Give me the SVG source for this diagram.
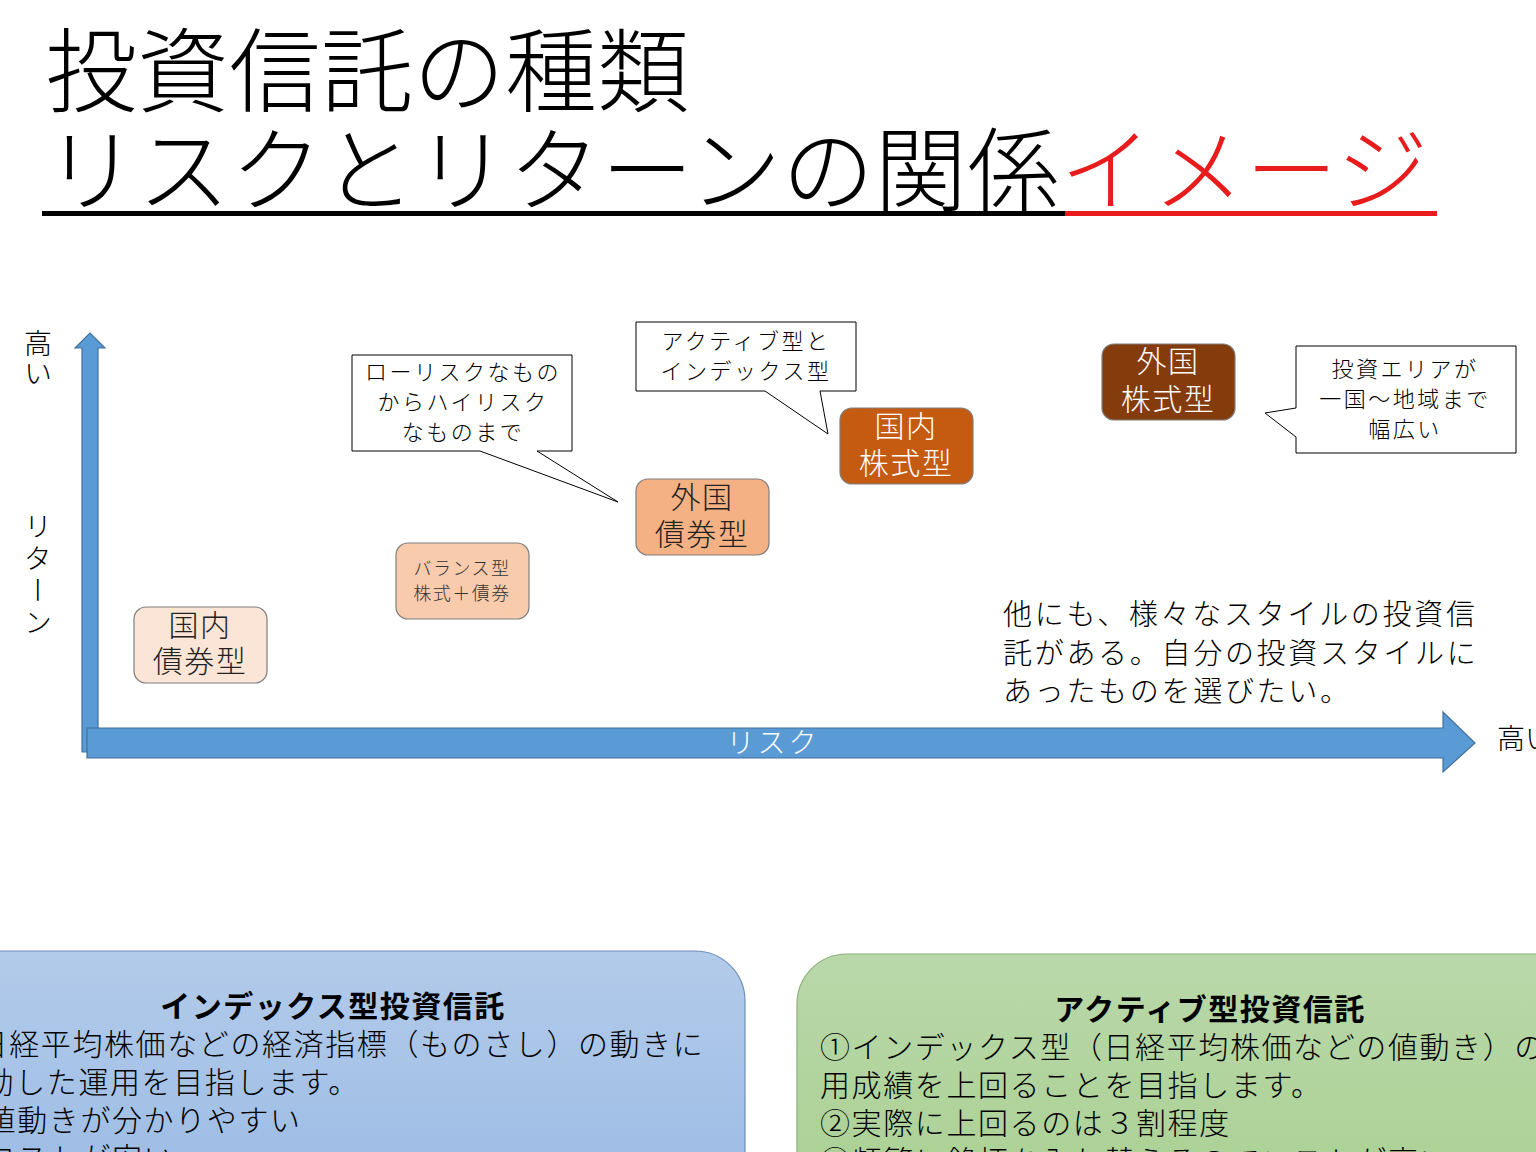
<svg xmlns="http://www.w3.org/2000/svg" width="1536" height="1152" viewBox="0 0 1536 1152">
<defs>
<linearGradient id="gBlue" x1="0" y1="0" x2="0" y2="1"><stop offset="0" stop-color="#B3CBEA"/><stop offset="1" stop-color="#96B8E3"/></linearGradient>
<linearGradient id="gGreen" x1="0" y1="0" x2="0" y2="1"><stop offset="0" stop-color="#B9D8AA"/><stop offset="1" stop-color="#A7CF8E"/></linearGradient>
<style>
text{font-family:"Noto Sans CJK JP","Noto Sans CJK SC",sans-serif;}
.title{font-size:92px;font-weight:300;fill:#000;}
.node{stroke:#7F7F7F;stroke-width:1.2;}
.nt{font-size:30px;letter-spacing:1.5px;text-anchor:middle;dominant-baseline:central;font-weight:300;}
.nts{font-size:18px;letter-spacing:1.5px;text-anchor:middle;dominant-baseline:central;font-weight:300;fill:#333;}
.call{fill:#fff;stroke:#000;stroke-width:1;}
.ct{font-size:22px;letter-spacing:2.5px;text-anchor:middle;dominant-baseline:central;font-weight:300;fill:#000;}
.axis{fill:#5B9BD5;stroke:#41719C;stroke-width:1.2;}
.lbl{font-size:28px;font-weight:300;fill:#000;}
.body{font-size:30px;letter-spacing:1.6px;dominant-baseline:central;font-weight:300;fill:#000;}
.note{font-size:29px;letter-spacing:2.7px;dominant-baseline:central;font-weight:300;fill:#000;}
.bt{font-size:30px;font-weight:700;text-anchor:middle;dominant-baseline:central;fill:#000;letter-spacing:1.5px;}
</style>
</defs>
<rect width="1536" height="1152" fill="#fff"/>

<g id="title">
<text class="title" x="45" y="64" dominant-baseline="central">投資信託の種類</text>
<text class="title" x="45" y="163" dominant-baseline="central" letter-spacing="0.7">リスクとリターンの関係<tspan fill="#E81C1C">イメージ</tspan></text>
<rect x="42" y="211" width="1023" height="5" fill="#000"/>
<rect x="1065" y="211" width="372" height="5" fill="#E81C1C"/>
</g>

<g id="connectors">
<path class="axis" d="M82,752 L82,348 L75,348 L90,333 L105,348 L98,348 L98,752 Z"/>
<path class="axis" d="M87,728 L1443,728 L1443,712 L1475,743 L1443,772 L1443,758 L87,758 Z"/>
<text x="773" y="741" font-size="28" fill="#fff" text-anchor="middle" dominant-baseline="central" letter-spacing="3" font-weight="300">リスク</text>
</g>

<g id="axis-labels">
<text class="lbl" x="38" y="329" writing-mode="vertical-rl" letter-spacing="2">高い</text>
<text class="lbl" x="38" y="512" writing-mode="vertical-rl" letter-spacing="4">リターン</text>
<text class="lbl" x="1497" y="737" dominant-baseline="central">高い</text>
</g>

<g id="node-domestic-bond">
<rect class="node" x="134" y="607" width="133" height="76" rx="12" fill="#FBE5D6"/>
<text class="nt" x="200" y="623" fill="#222">国内</text>
<text class="nt" x="200" y="659" fill="#222">債券型</text>
</g>

<g id="node-balance">
<rect class="node" x="396" y="543" width="133" height="76" rx="12" fill="#F8CBAD"/>
<text class="nts" x="462" y="567">バランス型</text>
<text class="nts" x="462" y="592">株式＋債券</text>
</g>

<g id="node-foreign-bond">
<rect class="node" x="636" y="479" width="133" height="76" rx="12" fill="#F4B183"/>
<text class="nt" x="702" y="495" fill="#222">外国</text>
<text class="nt" x="702" y="532" fill="#222">債券型</text>
</g>

<g id="node-domestic-stock">
<rect class="node" x="840" y="408" width="133" height="76" rx="12" fill="#C55A11"/>
<text class="nt" x="906" y="424" fill="#fff">国内</text>
<text class="nt" x="906" y="461" fill="#fff">株式型</text>
</g>

<g id="node-foreign-stock">
<rect class="node" x="1102" y="344" width="133" height="76" rx="12" fill="#843C0C"/>
<text class="nt" x="1168" y="359" fill="#fff">外国</text>
<text class="nt" x="1168" y="397" fill="#fff">株式型</text>
</g>

<g id="callout-range">
<path class="call" d="M352,355 L572,355 L572,451 L537,451 L618,502 L480,451 L352,451 Z"/>
<text class="ct" x="463" y="370">ローリスクなもの</text>
<text class="ct" x="463" y="400">からハイリスク</text>
<text class="ct" x="463" y="430">なものまで</text>
</g>

<g id="callout-active-index">
<path class="call" d="M636,322 L856,322 L856,391 L820,391 L828,434 L765,391 L636,391 Z"/>
<text class="ct" x="746" y="339">アクティブ型と</text>
<text class="ct" x="746" y="369">インデックス型</text>
</g>

<g id="callout-area">
<path class="call" d="M1296,346 L1516,346 L1516,453 L1296,453 L1296,437 L1265,413 L1296,408 Z"/>
<text class="ct" x="1405" y="367">投資エリアが</text>
<text class="ct" x="1405" y="397">一国〜地域まで</text>
<text class="ct" x="1405" y="427">幅広い</text>
</g>

<g id="note">
<text class="note" x="1003" y="612">他にも、様々なスタイルの投資信</text>
<text class="note" x="1003" y="651">託がある。自分の投資スタイルに</text>
<text class="note" x="1003" y="689">あったものを選びたい。</text>
</g>

<g id="box-index">
<rect x="-60" y="951" width="805" height="300" rx="50" fill="url(#gBlue)" stroke="#6F8EBD" stroke-width="1.2"/>
<text class="bt" x="333" y="1004">インデックス型投資信託</text>
<text class="body" x="-54" y="1042">①日経平均株価などの経済指標（ものさし）の動きに</text>
<text class="body" x="-48" y="1080">連動した運用を目指します。</text>
<text class="body" x="-46" y="1118">②値動きが分かりやすい</text>
<text class="body" x="-46" y="1156">③コストが安い</text>
</g>

<g id="box-active">
<rect x="797" y="954" width="800" height="300" rx="50" fill="url(#gGreen)" stroke="#8BAE78" stroke-width="1.2"/>
<text class="bt" x="1210" y="1007">アクティブ型投資信託</text>
<text class="body" x="820" y="1045">①インデックス型（日経平均株価などの値動き）の運</text>
<text class="body" x="820" y="1083">用成績を上回ることを目指します。</text>
<text class="body" x="820" y="1121">②実際に上回るのは３割程度</text>
<text class="body" x="820" y="1159">③頻繁に銘柄を入れ替えるのでコストが高い</text>
</g>
</svg>
